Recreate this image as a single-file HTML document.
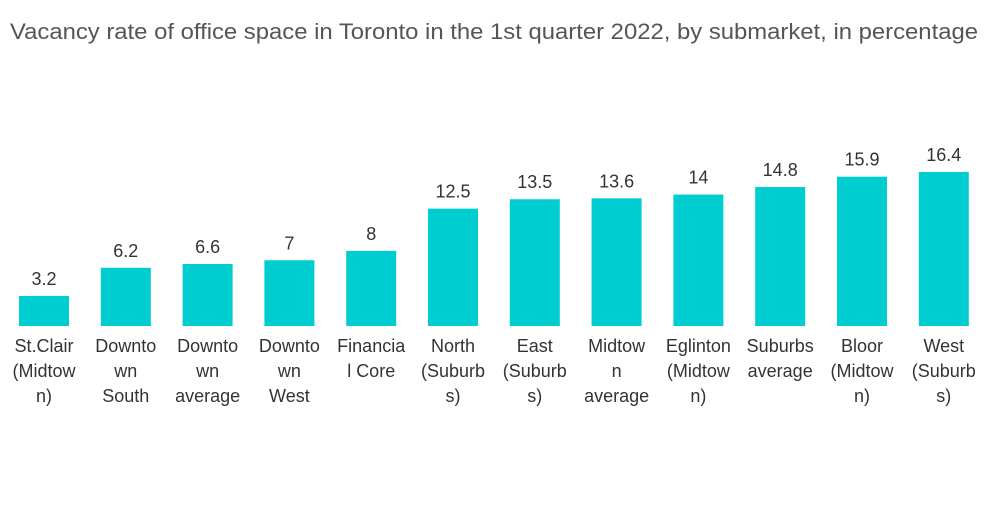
<!DOCTYPE html>
<html><head><meta charset="utf-8"><style>
body{margin:0;background:#fff;width:1000px;height:504px;overflow:hidden;font-family:"Liberation Sans",sans-serif}
</style></head><body>
<svg id="chart" width="1000" height="504" xmlns="http://www.w3.org/2000/svg">
<text x="10" y="39" textLength="968" lengthAdjust="spacingAndGlyphs" font-size="22" fill="#555" font-family="Liberation Sans, sans-serif">Vacancy rate of office space in Toronto in the 1st quarter 2022, by submarket, in percentage</text>
<g id="bars"></g>
</svg>
<script>
const categories=[["St.Clair","(Midtow","n)"],["Downto","wn","South"],["Downto","wn","average"],["Downto","wn","West"],["Financia","l Core"],["North","(Suburb","s)"],["East","(Suburb","s)"],["Midtow","n","average"],["Eglinton","(Midtow","n)"],["Suburbs","average"],["Bloor","(Midtow","n)"],["West","(Suburb","s)"]];
const values=[3.2,6.2,6.6,7,8,12.5,13.5,13.6,14,14.8,15.9,16.4];
const labels=["3.2","6.2","6.6","7","8","12.5","13.5","13.6","14","14.8","15.9","16.4"];
const NS="http://www.w3.org/2000/svg";
const g=document.getElementById('bars');
const baseY=326,scale=9.39,x0=44,step=81.8,bw=50;
const xPos=i=>x0+i*step;
const yPos=v=>baseY-v*scale;
values.forEach((v,i)=>{
  const cx=xPos(i);
  const r=document.createElementNS(NS,'rect');
  r.setAttribute('x',cx-bw/2);r.setAttribute('y',yPos(v));r.setAttribute('width',bw);r.setAttribute('height',baseY-yPos(v));r.setAttribute('fill','#00CDD0');
  
  
  g.appendChild(r);
  const t=document.createElementNS(NS,'text');
  t.setAttribute('x',cx);t.setAttribute('y',yPos(v)-11);t.setAttribute('text-anchor','middle');t.setAttribute('font-size','18');t.setAttribute('fill','#333');
  t.textContent=labels[i];
  
  
  g.appendChild(t);
  categories[i].forEach((line,j)=>{
    const c=document.createElementNS(NS,'text');
    c.setAttribute('x',cx);c.setAttribute('y',352+j*25);c.setAttribute('text-anchor','middle');c.setAttribute('font-size','18');c.setAttribute('fill','#333');
    c.textContent=line;
    
    
    g.appendChild(c);
  });
});
</script>
</body></html>
